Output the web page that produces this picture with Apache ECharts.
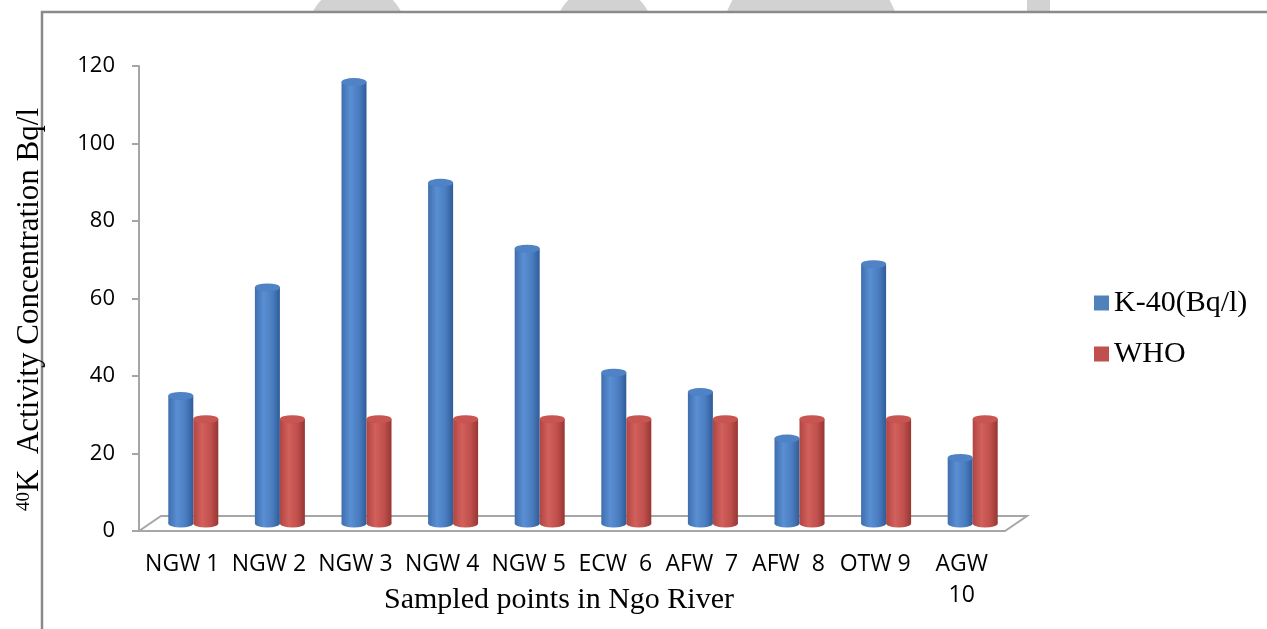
<!DOCTYPE html>
<html>
<head>
<meta charset="utf-8">
<script src="https://cdn.jsdelivr.net/npm/echarts@6/dist/echarts.min.js"></script>
<style>
  html, body { margin: 0; padding: 0; background: #ffffff; }
  #chart { width: 1267px; height: 629px; }
</style>
</head>
<body>
<div id="chart"></div>
<script>
// Sampling points along the Ngo River
const categories = ['NGW 1', 'NGW 2', 'NGW 3', 'NGW 4', 'NGW 5', 'ECW  6', 'AFW  7', 'AFW  8', 'OTW 9', 'AGW 10'];
// K-40 activity concentration (Bq/l) per sampling point
const k40Values = [33, 61, 114, 88, 71, 39, 34, 22, 67, 17];
// WHO reference level for each point
const whoValues = [27, 27, 27, 27, 27, 27, 27, 27, 27, 27];
const seriesNames = ['K-40(Bq/l)', 'WHO'];
const yMin = 0, yMax = 120, yStep = 20;

// Plot frame (front face of the 3D floor) and depth offset of the back edge
const PLOT = { left: 139, top: 66, width: 866, height: 465 };
const DEPTH = [22, -15];
const MID = [DEPTH[0] / 2, DEPTH[1] / 2];
const BAR_W = 25;
const CAP_H = 8;

const serif = '"Liberation Serif", "Times New Roman", serif';
const sans = '"Open Sans", "Noto Sans", sans-serif';
const axisGrey = '#a6a6a6';

function cylinder(edge, light, mid, dark) {
  return new echarts.graphic.LinearGradient(0, 0, 1, 0, [
    { offset: 0, color: edge },
    { offset: 0.35, color: light },
    { offset: 0.7, color: mid },
    { offset: 1, color: dark }
  ]);
}
const blueBody = cylinder('#3f6eae', '#5a8fd3', '#4a7dc0', '#2f5c98');
const redBody = cylinder('#b04542', '#d2605c', '#c0504d', '#963633');

const chart = echarts.init(document.getElementById('chart'), null, { renderer: 'canvas' });

const px = v => v + 'px';
const front = PLOT;
const middle = { left: PLOT.left + MID[0], top: PLOT.top + MID[1], width: PLOT.width, height: PLOT.height };

const hiddenCat = gridIndex => ({
  type: 'category', gridIndex, data: categories,
  axisLine: { show: false }, axisTick: { show: false }, axisLabel: { show: false }
});
const hiddenVal = gridIndex => ({
  type: 'value', gridIndex, min: yMin, max: yMax, interval: yStep,
  axisLine: { show: false }, axisTick: { show: false }, axisLabel: { show: false }, splitLine: { show: false }
});

// Floor outline: left depth edge, back edge, right depth edge
const f0 = [PLOT.left, PLOT.top + PLOT.height];
const f1 = [PLOT.left + PLOT.width, PLOT.top + PLOT.height];
const floorPts = [f0, [f0[0] + DEPTH[0], f0[1] + DEPTH[1]], [f1[0] + DEPTH[0], f1[1] + DEPTH[1]], f1];

const option = {
  animation: false,
  backgroundColor: '#ffffff',
  grid: [
    { left: px(front.left), top: px(front.top), width: px(front.width), height: px(front.height),
      containLabel: false, outerBoundsMode: 'none' },
    { left: px(middle.left), top: px(middle.top), width: px(middle.width), height: px(middle.height),
      containLabel: false, outerBoundsMode: 'none' }
  ],
  xAxis: [
    {
      type: 'category', gridIndex: 0, data: categories,
      name: 'Sampled points in Ngo River', nameLocation: 'middle', nameGap: 54,
      nameMoveOverlap: false,
      nameTextStyle: { fontFamily: serif, fontSize: 30, color: '#000', padding: [0, 26, 0, 0] },
      axisLine: { lineStyle: { color: axisGrey, width: 2 } },
      axisTick: { length: 6, lineStyle: { color: axisGrey, width: 2 } },
      axisLabel: {
        interval: 0, margin: 18, fontFamily: sans, fontSize: 23, color: '#000', lineHeight: 31,
        formatter: v => v.replace('AGW ', 'AGW\n')
      }
    },
    hiddenCat(1),
    hiddenCat(1)
  ],
  yAxis: [
    {
      type: 'value', gridIndex: 0, min: yMin, max: yMax, interval: yStep,
      name: '{sup|40}{main|K  Activity Concentration Bq/l}',
      nameLocation: 'middle', nameGap: 94,
      nameTextStyle: {
        padding: [0, 22, 0, 0],
        rich: {
          sup: { fontFamily: serif, fontSize: 19, color: '#000', lineHeight: 19, verticalAlign: 'top' },
          main: { fontFamily: serif, fontSize: 31, color: '#000', lineHeight: 30 }
        }
      },
      axisLine: { show: true, lineStyle: { color: axisGrey, width: 2 } },
      axisTick: { show: true, length: 7, lineStyle: { color: axisGrey, width: 2 } },
      axisLabel: { margin: 24, fontFamily: sans, fontSize: 22, color: '#000' },
      splitLine: { show: false }
    },
    hiddenVal(1)
  ],
  legend: {
    orient: 'vertical', left: 1089, top: 283,
    icon: 'rect', itemWidth: 15, itemHeight: 15, itemGap: 21,
    selectedMode: false,
    textStyle: { fontFamily: serif, fontSize: 30, color: '#000', lineHeight: 30 },
    data: [
      { name: seriesNames[0], itemStyle: { color: '#4F81BD' } },
      { name: seriesNames[1], itemStyle: { color: '#C0504D' } }
    ]
  },
  graphic: [
    // faint shapes peeking above the frame
    { type: 'circle', z: -10, shape: { cx: 357, cy: 35, r: 50 }, style: { fill: '#d2d2d2' } },
    { type: 'circle', z: -10, shape: { cx: 604, cy: 35, r: 50 }, style: { fill: '#d2d2d2' } },
    { type: 'circle', z: -10, shape: { cx: 811, cy: 44, r: 90 }, style: { fill: '#d2d2d2' } },
    { type: 'rect', z: -10, shape: { x: 1027, y: 0, width: 23, height: 12 }, style: { fill: '#d2d2d2' } },
    // chart frame
    { type: 'rect', z: -5, shape: { x: 42, y: 12, width: 1400, height: 800 },
      style: { fill: '#ffffff', stroke: '#8a8a8a', lineWidth: 2.5 } },
    // floor outline
    { type: 'polyline', z: -1, shape: { points: floorPts },
      style: { stroke: axisGrey, lineWidth: 2, fill: null } }
  ],
  series: [
    // cylinder bodies
    { name: seriesNames[0], type: 'bar', xAxisIndex: 1, yAxisIndex: 1, data: k40Values,
      barWidth: BAR_W, barGap: '0%', z: 3, itemStyle: { color: blueBody } },
    { name: seriesNames[1], type: 'bar', xAxisIndex: 1, yAxisIndex: 1, data: whoValues,
      barWidth: BAR_W, barGap: '0%', z: 3, itemStyle: { color: redBody } },
    // top caps
    { name: seriesNames[0], type: 'pictorialBar', xAxisIndex: 1, yAxisIndex: 1, data: k40Values,
      barWidth: BAR_W, barGap: '0%', symbol: 'circle', symbolSize: [BAR_W, CAP_H],
      symbolPosition: 'end', symbolOffset: [0, '-50%'], z: 4,
      itemStyle: { color: '#4f83c6', borderColor: '#3a659f', borderWidth: 1 } },
    { name: seriesNames[1], type: 'pictorialBar', xAxisIndex: 1, yAxisIndex: 1, data: whoValues,
      barWidth: BAR_W, barGap: '0%', symbol: 'circle', symbolSize: [BAR_W, CAP_H],
      symbolPosition: 'end', symbolOffset: [0, '-50%'], z: 4,
      itemStyle: { color: '#c85552', borderColor: '#9e3c39', borderWidth: 1 } },
    // rounded bases
    { name: seriesNames[0], type: 'pictorialBar', xAxisIndex: 2, yAxisIndex: 1, data: k40Values,
      barWidth: BAR_W, barGap: '0%', symbol: 'circle', symbolSize: [BAR_W, CAP_H],
      symbolPosition: 'start', symbolOffset: [0, '50%'], z: 2,
      itemStyle: { color: blueBody } },
    { name: seriesNames[1], type: 'pictorialBar', xAxisIndex: 2, yAxisIndex: 1, data: whoValues,
      barWidth: BAR_W, barGap: '0%', symbol: 'circle', symbolSize: [BAR_W, CAP_H],
      symbolPosition: 'start', symbolOffset: [0, '50%'], z: 2,
      itemStyle: { color: redBody } }
  ]
};

chart.setOption(option);
</script>
</body>
</html>
